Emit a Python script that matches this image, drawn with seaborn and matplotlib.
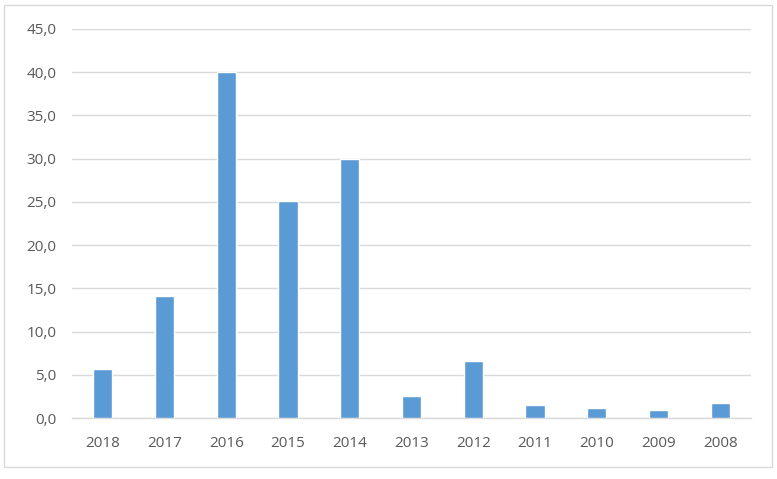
import matplotlib
matplotlib.use("Agg")
import matplotlib.pyplot as plt
import seaborn as sns
import pandas as pd
from matplotlib.patches import Rectangle
from matplotlib.ticker import FuncFormatter, MultipleLocator

years = ["2018", "2017", "2016", "2015", "2014", "2013", "2012", "2011", "2010", "2009", "2008"]
values = [5.7, 14.1, 40.0, 25.1, 30.0, 2.55, 6.65, 1.45, 1.1, 0.9, 1.7]

df = pd.DataFrame({"year": years, "value": values})

sns.set_theme(style="white")
plt.rcParams["font.family"] = ["Open Sans", "DejaVu Sans"]

fig = plt.figure(figsize=(7.77, 4.79), dpi=100)
ax = fig.add_axes([72 / 777, 1 - 418 / 479, (751 - 72) / 777, (418 - 29) / 479])

sns.barplot(data=df, x="year", y="value", order=years, color="#5B9BD5",
            saturation=1, width=0.31, ax=ax, zorder=3)

ax.set_ylim(0, 45)
ax.set_xlim(-0.5, len(years) - 0.5)
ax.yaxis.set_major_locator(MultipleLocator(5))
ax.yaxis.set_major_formatter(FuncFormatter(lambda v, p: f"{v:.1f}".replace(".", ",")))
ax.grid(axis="y", color="#D9D9D9", linewidth=1, zorder=0)
ax.set_axisbelow(True)
for s in ["left", "right", "top"]:
    ax.spines[s].set_visible(False)
ax.spines["bottom"].set_color("#D9D9D9")
ax.spines["bottom"].set_linewidth(1)
ax.set_xlabel("")
ax.set_ylabel("")
ax.tick_params(axis="both", length=0, labelsize=11, labelcolor="#595959")
ax.tick_params(axis="y", pad=11)
ax.tick_params(axis="x", pad=13)

fig.patches.append(Rectangle((4 / 777, 1 - 467 / 479), (772 - 4) / 777, (467 - 5) / 479,
                             transform=fig.transFigure, fill=False,
                             edgecolor="#D9D9D9", linewidth=1))

fig.savefig("out.png", dpi=100, facecolor="white")
